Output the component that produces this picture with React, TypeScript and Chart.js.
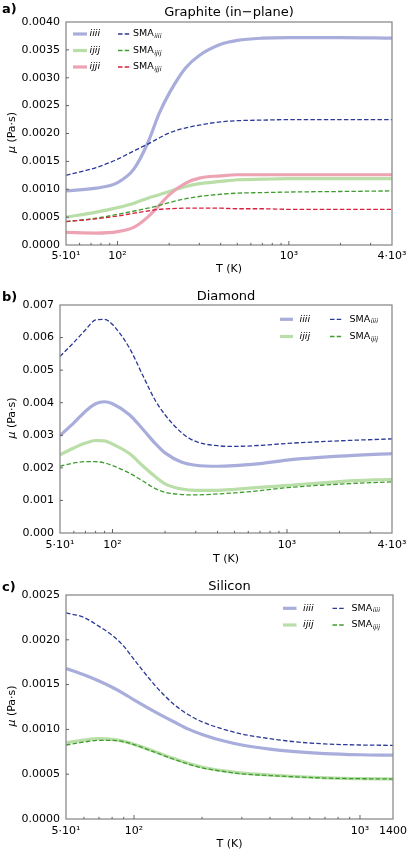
import React, { useEffect, useRef } from "react";
import { Chart, registerables } from "chart.js";
Chart.register(...registerables);

const FONT = "'DejaVu Sans', 'Noto Sans', sans-serif";

// ---------- Graphite (in-plane) ----------
const graphiteT = [50, 75, 100, 125, 150, 175, 200, 250, 300, 400, 500, 700, 1000, 2000, 4000];
const graphiteIiii = [0.00097, 0.00102, 0.00112, 0.00137, 0.00183, 0.00236, 0.00272, 0.00318, 0.0034, 0.0036, 0.00367, 0.00371, 0.00372, 0.00372, 0.00371];
const graphiteIjij = [0.0005, 0.00059, 0.00067, 0.00075, 0.00084, 0.0009, 0.00096, 0.00105, 0.0011, 0.00114, 0.00117, 0.00118, 0.00119, 0.00119, 0.00119];
const graphiteIjji = [0.000225, 0.000214, 0.00024, 0.00032, 0.0005, 0.00071, 0.0009, 0.00111, 0.0012, 0.00124, 0.00126, 0.00126, 0.00126, 0.00126, 0.00126];
const graphiteSmaIiii = [0.00125, 0.00139, 0.00154, 0.00169, 0.00181, 0.00192, 0.00201, 0.0021, 0.00215, 0.00221, 0.00223, 0.00224, 0.00225, 0.00225, 0.00225];
const graphiteSmaIjij = [0.00042, 0.00048, 0.00055, 0.00061, 0.00066, 0.00071, 0.00076, 0.00083, 0.00087, 0.00091, 0.00093, 0.00094, 0.00095, 0.00096, 0.00097];
const graphiteSmaIjji = [0.00042, 0.00047, 0.00052, 0.00057, 0.00061, 0.00064, 0.00065, 0.00066, 0.00066, 0.00066, 0.00065, 0.00065, 0.00064, 0.00064, 0.00064];

// ---------- Diamond ----------
const diamondT = [50, 60, 70, 80, 90, 100, 125, 150, 175, 200, 250, 300, 400, 500, 700, 1000, 2000, 4000];
const diamondIiii = [0.00299, 0.00338, 0.00374, 0.00397, 0.00403, 0.00397, 0.00363, 0.00317, 0.00276, 0.00246, 0.00217, 0.00208, 0.00205, 0.00207, 0.00213, 0.00224, 0.00236, 0.00244];
const diamondIjij = [0.0024, 0.00261, 0.00276, 0.00284, 0.00283, 0.00273, 0.00244, 0.00205, 0.00174, 0.00151, 0.00135, 0.00131, 0.00131, 0.00134, 0.0014, 0.00146, 0.00158, 0.00165];
const diamondSmaIiii = [0.00542, 0.00585, 0.00624, 0.00654, 0.00656, 0.0064, 0.00568, 0.00481, 0.00409, 0.00363, 0.00307, 0.00281, 0.00268, 0.00266, 0.00269, 0.00275, 0.00283, 0.00289];
const diamondSmaIjij = [0.00205, 0.00215, 0.00219, 0.00219, 0.00215, 0.00207, 0.00184, 0.00159, 0.00137, 0.00125, 0.00118, 0.00117, 0.0012, 0.00123, 0.0013, 0.00139, 0.0015, 0.00157];

// ---------- Silicon ----------
const siliconT = [50, 60, 70, 80, 90, 100, 125, 150, 175, 200, 250, 300, 400, 500, 700, 1000, 1400];
const siliconIiii = [0.00168, 0.00161, 0.00154, 0.00147, 0.0014, 0.00133, 0.00119, 0.001085, 0.001, 0.000944, 0.00087, 0.000826, 0.00078, 0.000755, 0.00073, 0.000717, 0.000712];
const siliconIjij = [0.000852, 0.000881, 0.000896, 0.000889, 0.000867, 0.000833, 0.000748, 0.000674, 0.000619, 0.000581, 0.000537, 0.000511, 0.00049, 0.000477, 0.00046, 0.00045, 0.000447];
const siliconSmaIiii = [0.0023, 0.00225, 0.00215, 0.00205, 0.00193, 0.00178, 0.00148, 0.00128, 0.00116, 0.001085, 0.001, 0.000948, 0.000896, 0.000865, 0.000838, 0.000826, 0.000822];
const siliconSmaIjij = [0.000826, 0.000859, 0.000878, 0.000878, 0.000862, 0.00083, 0.000741, 0.000667, 0.000611, 0.00057, 0.00053, 0.000504, 0.000485, 0.000472, 0.000457, 0.00045, 0.000446];

// ---------- Ticks ----------
const xTicksWide = [50, 60, 70, 80, 90, 100, 200, 300, 400, 500, 600, 700, 800, 900, 1000, 2000, 3000, 4000];
const xTicksSilicon = [50, 60, 70, 80, 90, 100, 200, 300, 400, 500, 600, 700, 800, 900, 1000, 1400];
const xLabelsWide: Record<string, string> = { "50": "5·10¹", "100": "10²", "1000": "10³", "4000": "4·10³" };
const xLabelsSilicon: Record<string, string> = { "50": "5·10¹", "100": "10²", "1000": "10³", "1400": "1400" };
const xMajorTicks = [100, 1000];

const C_IIII = "#a8addb";
const C_IJIJ = "#b9dea8";
const C_IJJI = "#eda3b3";
const C_SMA_IIII = "#2c3996";
const C_SMA_IJIJ = "#3f9d2e";
const C_SMA_IJJI = "#d6213f";

type Series = { label: string; sub?: string; data: number[]; color: string; dashed: boolean; order: number };
type Panel = {
  key: string;
  top: number;
  height: number;
  plot: { left: number; top: number; right: number; bottom: number };
  T: number[];
  xMax: number;
  xTicks: number[];
  xLabels: Record<string, string>;
  xTickPad: number;
  yMax: number;
  yStep: number;
  yDecimals: number;
  tag: string;
  tagBase: number;
  title: string;
  titleBase: number;
  xTitleBase: number;
  legend: { sw1: [number, number]; t1: number; sw2: [number, number]; t2: number; y: number; dy: number };
  series: Series[];
};

const panels: Panel[] = [
  {
    key: "a", top: 0, height: 280,
    plot: { left: 66, top: 22, right: 392, bottom: 245 },
    T: graphiteT, xMax: 4000, xTicks: xTicksWide, xLabels: xLabelsWide, xTickPad: 4.5,
    yMax: 0.004, yStep: 0.0005, yDecimals: 4,
    tag: "a)", tagBase: 12.5, title: "Graphite (in−plane)", titleBase: 16, xTitleBase: 272,
    legend: { sw1: [73, 87], t1: 89.5, sw2: [118, 131], t2: 133, y: 34, dy: 16.5 },
    series: [
      { label: "iiii", data: graphiteIiii, color: C_IIII, dashed: false, order: 5 },
      { label: "ijij", data: graphiteIjij, color: C_IJIJ, dashed: false, order: 4 },
      { label: "ijji", data: graphiteIjji, color: C_IJJI, dashed: false, order: 3 },
      { label: "SMA", sub: "iiii", data: graphiteSmaIiii, color: C_SMA_IIII, dashed: true, order: 2 },
      { label: "SMA", sub: "ijij", data: graphiteSmaIjij, color: C_SMA_IJIJ, dashed: true, order: 1 },
      { label: "SMA", sub: "ijji", data: graphiteSmaIjji, color: C_SMA_IJJI, dashed: true, order: 0 },
    ],
  },
  {
    key: "b", top: 280, height: 285,
    plot: { left: 60, top: 25, right: 392, bottom: 253 },
    T: diamondT, xMax: 4000, xTicks: xTicksWide, xLabels: xLabelsWide, xTickPad: 5.5,
    yMax: 0.007, yStep: 0.001, yDecimals: 3,
    tag: "b)", tagBase: 21, title: "Diamond", titleBase: 20, xTitleBase: 282,
    legend: { sw1: [280, 293], t1: 299.5, sw2: [330, 342.5], t2: 349.5, y: 39.3, dy: 17.2 },
    series: [
      { label: "iiii", data: diamondIiii, color: C_IIII, dashed: false, order: 5 },
      { label: "ijij", data: diamondIjij, color: C_IJIJ, dashed: false, order: 4 },
      { label: "SMA", sub: "iiii", data: diamondSmaIiii, color: C_SMA_IIII, dashed: true, order: 2 },
      { label: "SMA", sub: "ijij", data: diamondSmaIjij, color: C_SMA_IJIJ, dashed: true, order: 1 },
    ],
  },
  {
    key: "c", top: 565, height: 293,
    plot: { left: 66, top: 30, right: 393, bottom: 254 },
    T: siliconT, xMax: 1400, xTicks: xTicksSilicon, xLabels: xLabelsSilicon, xTickPad: 5.5,
    yMax: 0.0025, yStep: 0.0005, yDecimals: 4,
    tag: "c)", tagBase: 25.5, title: "Silicon", titleBase: 25, xTitleBase: 282,
    legend: { sw1: [283, 296.5], t1: 303, sw2: [332.5, 345], t2: 351.5, y: 43.3, dy: 16.7 },
    series: [
      { label: "iiii", data: siliconIiii, color: C_IIII, dashed: false, order: 5 },
      { label: "ijij", data: siliconIjij, color: C_IJIJ, dashed: false, order: 4 },
      { label: "SMA", sub: "iiii", data: siliconSmaIiii, color: C_SMA_IIII, dashed: true, order: 2 },
      { label: "SMA", sub: "ijij", data: siliconSmaIjij, color: C_SMA_IJIJ, dashed: true, order: 1 },
    ],
  },
];

const SOLID_W = 3.2;
const DASH_W = 1.3;
const DASH = [4.5, 2.2];

function decor(p: Panel) {
  return {
    id: "decor" + p.key,
    afterDatasetsDraw(chart: any) {
      const { ctx, chartArea: a } = chart;
      const xs = chart.scales.x;
      const ys = chart.scales.y;
      ctx.save();
      // frame
      ctx.strokeStyle = "#8c8c8c";
      ctx.lineWidth = 1.3;
      ctx.setLineDash([]);
      ctx.strokeRect(a.left, a.top, a.right - a.left, a.bottom - a.top);
      // inward ticks
      ctx.strokeStyle = "#555";
      ctx.lineWidth = 0.9;
      ctx.beginPath();
      for (const t of xs.ticks) {
        const x = xs.getPixelForValue(t.value);
        if (x <= a.left + 1 || x >= a.right - 1) continue;
        const len = xMajorTicks.includes(t.value) ? 4 : 2.2;
        ctx.moveTo(x, a.bottom);
        ctx.lineTo(x, a.bottom - len);
      }
      for (const t of ys.ticks) {
        const y = ys.getPixelForValue(t.value);
        if (y <= a.top + 1 || y >= a.bottom - 1) continue;
        ctx.moveTo(a.left, y);
        ctx.lineTo(a.left + 3, y);
      }
      ctx.stroke();

      // legend
      const L = p.legend;
      let r1 = 0, r2 = 0;
      ctx.textBaseline = "middle";
      ctx.textAlign = "left";
      for (const s of p.series) {
        const row = s.dashed ? r2++ : r1++;
        const y = L.y + row * L.dy;
        const sw = s.dashed ? L.sw2 : L.sw1;
        ctx.strokeStyle = s.color;
        ctx.lineWidth = s.dashed ? DASH_W : SOLID_W;
        ctx.setLineDash(s.dashed ? DASH : []);
        ctx.beginPath();
        ctx.moveTo(sw[0], y);
        ctx.lineTo(sw[1], y);
        ctx.stroke();
        ctx.setLineDash([]);
        ctx.fillStyle = "#000";
        if (!s.dashed) {
          ctx.font = `italic 9.5px ${FONT}`;
          ctx.fillText(s.label, L.t1, y);
        } else {
          ctx.font = `9.5px ${FONT}`;
          ctx.fillText(s.label, L.t2, y);
          const w = ctx.measureText(s.label).width;
          ctx.font = `italic 6.5px ${FONT}`;
          ctx.fillText(s.sub || "", L.t2 + w + 0.5, y + 2.5);
        }
      }

      // title
      ctx.fillStyle = "#000";
      ctx.textBaseline = "alphabetic";
      ctx.textAlign = "center";
      ctx.font = `13px ${FONT}`;
      ctx.fillText(p.title, (a.left + a.right) / 2, p.titleBase);
      // panel tag
      ctx.textAlign = "left";
      ctx.font = `bold 13px ${FONT}`;
      ctx.fillText(p.tag, 2, p.tagBase);
      // x title
      ctx.textAlign = "center";
      ctx.font = `11px ${FONT}`;
      ctx.fillText("T (K)", (a.left + a.right) / 2, p.xTitleBase);
      // y title
      ctx.save();
      ctx.translate(12.5, (a.top + a.bottom) / 2 - 1);
      ctx.rotate(-Math.PI / 2);
      const f1 = `italic 11px ${FONT}`;
      const f2 = `11px ${FONT}`;
      ctx.font = f1;
      const w1 = ctx.measureText("μ").width;
      ctx.font = f2;
      const w2 = ctx.measureText(" (Pa·s)").width;
      const x0 = -(w1 + w2) / 2;
      ctx.textAlign = "left";
      ctx.textBaseline = "middle";
      ctx.font = f1;
      ctx.fillText("μ", x0, 0);
      ctx.font = f2;
      ctx.fillText(" (Pa·s)", x0 + w1, 0);
      ctx.restore();

      ctx.restore();
    },
  };
}

function PanelChart({ p }: { p: Panel }) {
  const ref = useRef<HTMLCanvasElement>(null);
  useEffect(() => {
    const canvas = ref.current;
    if (!canvas) return;
    const chart = new Chart(canvas, {
      type: "line",
      data: {
        datasets: p.series.map((s) => ({
          label: s.sub ? s.label + s.sub : s.label,
          data: p.T.map((t, i) => ({ x: t, y: s.data[i] })),
          borderColor: s.color,
          backgroundColor: s.color,
          borderWidth: s.dashed ? DASH_W : SOLID_W,
          borderDash: s.dashed ? DASH : [],
          borderCapStyle: "butt",
          pointRadius: 0,
          pointHoverRadius: 0,
          cubicInterpolationMode: "monotone",
          fill: false,
          order: s.order,
        })),
      } as any,
      options: {
        responsive: false,
        animation: false,
        devicePixelRatio: 1,
        events: [],
        layout: { padding: { top: p.plot.top, right: 416 - p.plot.right, left: 0, bottom: 0 } },
        plugins: { legend: { display: false }, tooltip: { enabled: false }, title: { display: false } },
        scales: {
          x: {
            type: "logarithmic",
            min: 50,
            max: p.xMax,
            grid: { display: false, drawTicks: false },
            border: { display: false },
            afterBuildTicks: (s: any) => {
              s.ticks = p.xTicks.map((v) => ({ value: v }));
            },
            afterFit: (s: any) => {
              s.height = p.height - p.plot.bottom;
            },
            ticks: {
              autoSkip: false,
              maxRotation: 0,
              minRotation: 0,
              padding: p.xTickPad,
              color: "#000",
              font: { family: FONT, size: 11 },
              callback: (v: any) => p.xLabels[String(v)] ?? "",
            },
          },
          y: {
            min: 0,
            max: p.yMax,
            grid: { display: false, drawTicks: false },
            border: { display: false },
            afterFit: (s: any) => {
              s.width = p.plot.left;
            },
            ticks: {
              stepSize: p.yStep,
              padding: 6,
              color: "#000",
              font: { family: FONT, size: 11 },
              callback: (v: any) => Number(v).toFixed(p.yDecimals),
            },
          },
        },
      } as any,
      plugins: [decor(p)],
    });
    return () => chart.destroy();
  }, [p]);
  return (
    <canvas
      ref={ref}
      width={416}
      height={p.height}
      style={{ display: "block", position: "absolute", left: 0, top: p.top, width: 416, height: p.height }}
    />
  );
}

export default function App() {
  return (
    <div style={{ position: "absolute", left: 0, top: 0, width: 416, height: 858, background: "#fff", overflow: "hidden" }}>
      {panels.map((p) => (
        <PanelChart key={p.key} p={p} />
      ))}
    </div>
  );
}
